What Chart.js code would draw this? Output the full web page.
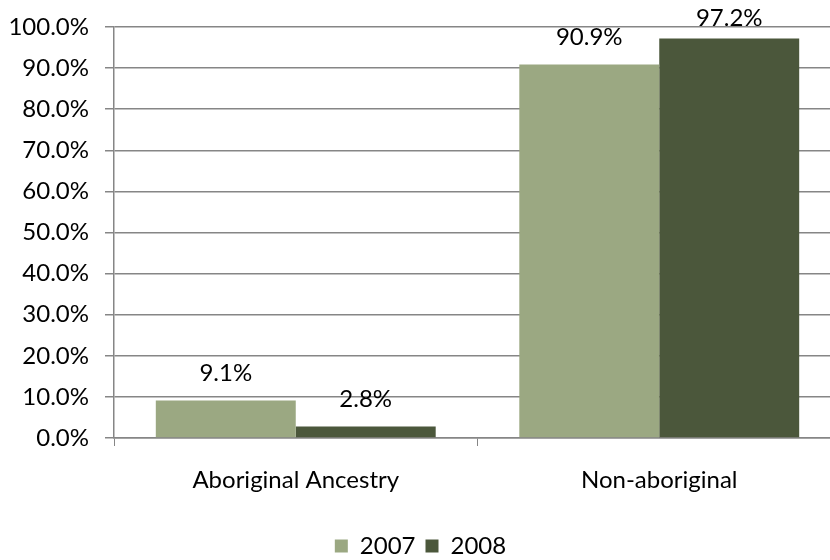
<!DOCTYPE html>
<html>
<head>
<meta charset="utf-8">
<script src="https://cdn.jsdelivr.net/npm/chart.js@4"></script>
<style>
  html, body { margin: 0; padding: 0; background: #fff; overflow: hidden; }
  #wrap { width: 850px; height: 560px; }
</style>
</head>
<body>
<div id="wrap"><canvas id="chart" width="850" height="560"></canvas></div>
<script>
// Categories and series
const CATEGORIES = ["Aboriginal Ancestry", "Non-aboriginal"];
const SERIES_2007 = [9.1, 90.9];
const SERIES_2008 = [2.8, 97.2];
const SERIES_LABELS = ["2007", "2008"];

const COLORS = ["#9BA882", "#4B573B"];
const GRID = "#868686";
const FONT = "Lato, 'Open Sans', sans-serif";
const FONT_SIZE = 24;

// Draw value labels above each bar (kept inside the canvas top)
const valueLabels = {
  id: "valueLabels",
  afterDatasetsDraw(chart) {
    const ctx = chart.ctx;
    ctx.save();
    ctx.font = FONT_SIZE + "px " + FONT;
    ctx.fillStyle = "#000";
    ctx.textAlign = "center";
    ctx.textBaseline = "middle";
    chart.data.datasets.forEach((ds, i) => {
      chart.getDatasetMeta(i).data.forEach((bar, j) => {
        const y = Math.max(bar.y - 27, 18);
        ctx.fillText(ds.data[j].toFixed(1) + "%", bar.x, y);
      });
    });
    ctx.restore();
  },
};

new Chart(document.getElementById("chart"), {
  type: "bar",
  data: {
    labels: CATEGORIES,
    datasets: [
      { label: SERIES_LABELS[0], data: SERIES_2007, backgroundColor: COLORS[0] },
      { label: SERIES_LABELS[1], data: SERIES_2008, backgroundColor: COLORS[1] },
    ],
  },
  options: {
    responsive: false,
    animation: false,
    categoryPercentage: 0.77,
    barPercentage: 1,
    layout: { padding: { top: 27, left: 0, right: 9, bottom: -8 } },
    plugins: {
      legend: {
        position: "bottom",
        labels: {
          font: { family: FONT, size: FONT_SIZE },
          color: "#000",
          boxWidth: 13,
          boxHeight: 13,
          padding: 10,
        },
      },
      tooltip: { enabled: false },
    },
    scales: {
      x: {
        afterFit: (scale) => { scale.height = 86; },
        grid: {
          offset: true,
          drawOnChartArea: false,
          drawTicks: true,
          tickLength: 8,
          color: GRID,
        },
        border: { color: GRID, width: 1.5 },
        ticks: { font: { family: FONT, size: FONT_SIZE }, color: "#000", padding: 20 },
      },
      y: {
        min: 0,
        max: 100,
        afterFit: (scale) => {
          scale.width = 114;
          scale.paddingTop = 0;
          scale.paddingBottom = 0;
        },
        ticks: {
          stepSize: 10,
          font: { family: FONT, size: FONT_SIZE },
          color: "#000",
          padding: 16,
          callback: (v) => v.toFixed(1) + "%",
        },
        grid: { color: GRID, lineWidth: 1.5, tickLength: 9 },
        border: { color: GRID, width: 1.5 },
      },
    },
  },
  plugins: [valueLabels],
});
</script>
</body>
</html>
